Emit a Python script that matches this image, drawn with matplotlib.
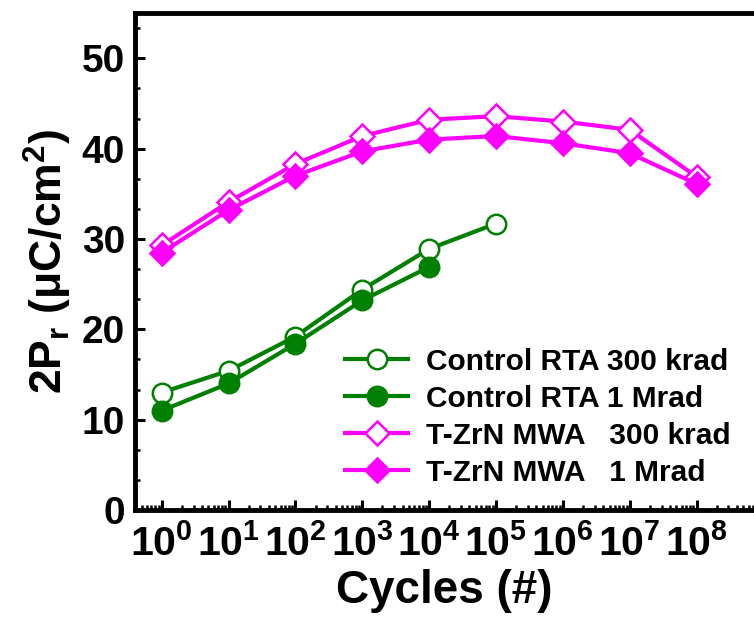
import numpy as np
import matplotlib
matplotlib.use("Agg")
import matplotlib.pyplot as plt
from matplotlib.ticker import LogLocator, AutoMinorLocator, NullFormatter, FixedLocator

# ===== Data =====
cycles = [1e0, 1e1, 1e2, 1e3, 1e4, 1e5, 1e6, 1e7, 1e8]
rta_300k = [13.0, 15.4, 19.2, 24.4, 28.9, 31.7]
rta_1M = [11.0, 14.0, 18.4, 23.2, 26.9]
zrn_300k = [29.3, 34.1, 38.3, 41.4, 43.2, 43.6, 43.0, 42.1, 36.9]
zrn_1M = [28.5, 33.2, 37.0, 39.7, 41.0, 41.4, 40.6, 39.5, 36.1]

labels = ["Control RTA 300 krad", "Control RTA 1 Mrad",
          "T-ZrN MWA   300 krad", "T-ZrN MWA   1 Mrad"]
x_ticks = [1e0, 1e1, 1e2, 1e3, 1e4, 1e5, 1e6, 1e7, 1e8]
x_ticklabels = [r"$10^{%d}$" % i for i in range(9)]
y_ticks = [0, 10, 20, 30, 40, 50]

# ===== Style =====
plt.rcParams["font.family"] = ["Liberation Sans", "DejaVu Sans"]
plt.rcParams["font.weight"] = "bold"
plt.rcParams["mathtext.fontset"] = "custom"
plt.rcParams["mathtext.rm"] = "Liberation Sans:bold"
plt.rcParams["mathtext.it"] = "Liberation Sans:bold"
plt.rcParams["mathtext.bf"] = "Liberation Sans:bold"
plt.rcParams["mathtext.default"] = "rm"

green = "#008000"
magenta = "#FF00FF"

fig = plt.figure(figsize=(7.54, 6.28), dpi=100)
ax = fig.add_axes([0.179, 0.188, 0.821, 0.791])

lw = 3.0
mew = 1.8
ax.plot(cycles[:len(rta_300k)], rta_300k, "o-", color=green, lw=lw, ms=14,
        mfc="white", mec=green, mew=mew, label=labels[0])
ax.plot(cycles[:len(rta_1M)], rta_1M, "o-", color=green, lw=lw, ms=14,
        mfc=green, mec=green, mew=mew, label=labels[1])
ax.plot(cycles, zrn_300k, "D-", color=magenta, lw=lw, ms=12,
        mfc="white", mec=magenta, mew=mew, label=labels[2])
ax.plot(cycles, zrn_1M, "D-", color=magenta, lw=lw, ms=12,
        mfc=magenta, mec=magenta, mew=mew, label=labels[3])

ax.set_xscale("log")
ax.set_xlim(10 ** -0.4, 10 ** 8.86)
ax.set_ylim(0, 55)

ax.xaxis.set_major_locator(FixedLocator(x_ticks))
ax.set_xticklabels(x_ticklabels)
ax.xaxis.set_minor_locator(LogLocator(base=10, subs=np.arange(2, 10), numticks=20))
ax.xaxis.set_minor_formatter(NullFormatter())
ax.set_yticks(y_ticks)
ax.yaxis.set_minor_locator(AutoMinorLocator(3))

ax.tick_params(axis="both", which="major", direction="in", length=7, width=2.2)
ax.tick_params(axis="both", which="minor", direction="in", length=3.5, width=1.8)
ax.tick_params(axis="x", which="major", labelsize=29.5, pad=10)
ax.tick_params(axis="y", which="major", labelsize=28, pad=7)
ax.tick_params(top=False, right=False, which="both")

for side in ["left", "bottom", "top"]:
    ax.spines[side].set_linewidth(3.5)
ax.spines["right"].set_visible(False)

ax.set_xlabel("Cycles (#)", fontsize=33, fontweight="bold", labelpad=4)
ax.set_ylabel(r"2P$_\mathregular{r}$ (μC/cm$^\mathregular{2}$)", fontsize=32,
              fontweight="bold", labelpad=6)

ax.legend(loc="upper left", bbox_to_anchor=(0.458, 0.446),
          bbox_transform=fig.transFigure, frameon=False, fontsize=21.5,
          handlelength=2.1, handletextpad=0.6, labelspacing=0.3,
          borderpad=0, borderaxespad=0)

fig.savefig("out.png", dpi=100)
